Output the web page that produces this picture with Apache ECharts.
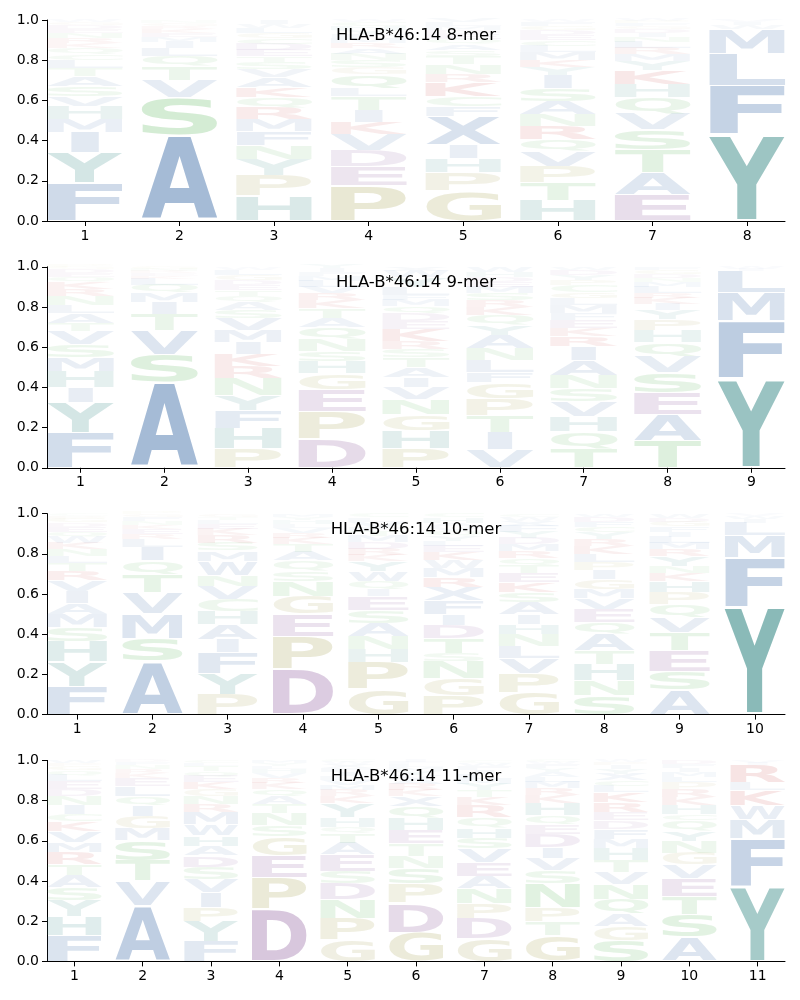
<!DOCTYPE html>
<html><head><meta charset="utf-8">
<script src="https://cdn.jsdelivr.net/npm/echarts@6/dist/echarts.min.js"></script>
<style>html,body{margin:0;padding:0;background:#fff}#c{width:800px;height:1000px}</style>
</head><body><div id="c"></div>
<script>
// ---------- DATA (letters listed bottom -> top, value = frequency) ----------
const titles = ['HLA-B*46:14 8-mer', 'HLA-B*46:14 9-mer', 'HLA-B*46:14 10-mer', 'HLA-B*46:14 11-mer'];
const yTickLabels = ['0.0', '0.2', '0.4', '0.6', '0.8', '1.0'];

const logo8 = [
 [['F',.19],['Y',.15],['I',.10],['M',.065],['H',.065],['V',.05],['S',.05],['A',.05],['T',.04],['L',.04],['C',.03],['Q',.03],['K',.025],['R',.025],['N',.025],['E',.02],['D',.02],['G',.015],['W',.01]],
 [['A',.425],['S',.19],['V',.085],['T',.07],['Q',.05],['L',.04],['I',.03],['M',.025],['E',.02],['K',.02],['R',.015],['G',.015],['N',.01]],
 [['H',.125],['P',.10],['Y',.08],['N',.07],['F',.07],['M',.06],['R',.06],['Q',.05],['K',.05],['A',.05],['V',.04],['S',.035],['T',.03],['E',.03],['D',.03],['C',.03],['G',.025],['L',.025],['W',.02],['I',.02]],
 [['P',.175],['E',.095],['D',.08],['V',.08],['K',.06],['I',.06],['T',.07],['L',.04],['Q',.07],['G',.035],['S',.035],['N',.03],['A',.03],['R',.025],['M',.025],['F',.02],['Y',.02],['H',.02],['C',.02],['W',.01]],
 [['G',.15],['P',.09],['H',.07],['I',.07],['X',.14],['F',.05],['C',.05],['K',.07],['R',.04],['N',.05],['T',.04],['S',.03],['A',.03],['Q',.025],['E',.025],['D',.02],['M',.02],['L',.02],['V',.02]],
 [['H',.10],['T',.09],['P',.08],['V',.075],['Q',.06],['R',.065],['N',.06],['A',.065],['S',.065],['I',.065],['Y',.04],['K',.035],['M',.04],['L',.03],['C',.03],['E',.025],['D',.025],['G',.02],['F',.02],['W',.01]],
 [['E',.13],['A',.11],['T',.115],['S',.10],['V',.08],['Q',.08],['H',.065],['K',.07],['Y',.045],['M',.035],['R',.03],['L',.03],['N',.025],['I',.02],['D',.02],['G',.015],['F',.015],['P',.01],['W',.01]],
 [['Y',.43],['F',.245],['L',.16],['M',.12],['W',.02],['I',.015],['V',.01]]
];

const logo9 = [
 [['F',.175],['Y',.15],['I',.075],['H',.08],['M',.07],['S',.065],['V',.065],['T',.04],['A',.05],['L',.04],['N',.045],['R',.035],['K',.035],['Q',.025],['E',.02],['D',.02],['G',.01],['P',.01]],
 [['A',.425],['S',.14],['V',.12],['T',.08],['I',.06],['M',.045],['Q',.04],['L',.03],['K',.015],['E',.015],['R',.01],['N',.01],['G',.01]],
 [['P',.095],['H',.10],['F',.09],['Y',.075],['N',.085],['R',.06],['K',.06],['I',.06],['M',.06],['V',.06],['S',.04],['A',.04],['Q',.03],['T',.03],['E',.025],['D',.025],['G',.025],['L',.025],['W',.01]],
 [['D',.145],['P',.135],['E',.11],['G',.08],['H',.06],['S',.05],['N',.06],['Q',.06],['A',.045],['T',.05],['K',.04],['R',.035],['V',.03],['L',.03],['M',.025],['F',.02],['I',.02],['Y',.02]],
 [['P',.095],['H',.09],['G',.08],['N',.075],['V',.06],['I',.05],['A',.05],['T',.05],['S',.04],['R',.04],['K',.06],['E',.04],['D',.04],['Q',.035],['M',.03],['F',.025],['L',.04],['Y',.05],['W',.03],['X',.02]],
 [['V',.09],['I',.085],['T',.085],['P',.085],['G',.08],['F',.05],['L',.06],['N',.06],['A',.065],['Y',.05],['Q',.05],['K',.04],['R',.035],['S',.035],['M',.03],['E',.025],['D',.025],['H',.025],['W',.025]],
 [['T',.095],['Q',.085],['H',.075],['V',.075],['S',.065],['N',.065],['A',.075],['I',.07],['R',.05],['K',.04],['E',.04],['F',.035],['M',.04],['L',.035],['G',.03],['C',.035],['P',.025],['Y',.025],['D',.025],['W',.015]],
 [['T',.135],['A',.13],['E',.11],['S',.10],['V',.08],['Q',.07],['H',.06],['P',.055],['Y',.045],['I',.03],['K',.03],['R',.025],['L',.03],['M',.025],['N',.02],['D',.02],['G',.02],['F',.015]],
 [['Y',.445],['F',.285],['M',.14],['L',.11],['I',.01],['W',.01]]
];

const logo10 = [
 [['F',.14],['Y',.125],['H',.10],['S',.07],['M',.065],['A',.055],['I',.06],['V',.055],['R',.045],['T',.04],['L',.035],['N',.035],['K',.03],['W',.03],['Q',.025],['E',.025],['D',.02],['G',.02],['P',.015],['C',.01]],
 [['A',.265],['S',.115],['M',.125],['V',.105],['T',.09],['Q',.065],['I',.07],['L',.04],['R',.025],['E',.025],['K',.02],['N',.02],['F',.02],['G',.015],['P',.01]],
 [['P',.10],['Y',.105],['F',.105],['I',.065],['A',.075],['H',.065],['C',.06],['V',.065],['N',.055],['W',.07],['M',.05],['S',.04],['R',.04],['K',.03],['E',.025],['L',.02],['T',.015],['G',.015]],
 [['D',.225],['P',.165],['E',.11],['G',.09],['N',.075],['S',.05],['Q',.05],['A',.045],['T',.04],['K',.03],['R',.025],['V',.025],['L',.02],['H',.02],['Y',.015],['M',.015]],
 [['G',.125],['P',.135],['H',.065],['N',.065],['A',.065],['S',.065],['E',.07],['I',.035],['Q',.04],['W',.05],['Y',.05],['K',.03],['R',.03],['D',.035],['M',.03],['T',.025],['F',.02],['V',.025],['L',.02],['C',.02]],
 [['P',.095],['G',.085],['N',.085],['S',.04],['T',.075],['D',.065],['I',.055],['F',.07],['X',.065],['R',.05],['M',.045],['W',.04],['K',.04],['E',.03],['L',.025],['Y',.025],['Q',.025],['V',.02],['A',.02],['H',.025],['C',.02]],
 [['G',.11],['P',.095],['V',.075],['L',.06],['N',.06],['H',.05],['I',.05],['A',.06],['S',.05],['K',.05],['E',.045],['T',.04],['Q',.035],['R',.035],['M',.035],['D',.03],['Y',.03],['F',.03],['X',.025],['W',.02],['C',.015]],
 [['S',.095],['N',.075],['H',.08],['T',.07],['A',.08],['Q',.06],['E',.065],['V',.055],['M',.045],['G',.05],['I',.045],['P',.04],['L',.04],['K',.04],['R',.035],['Y',.03],['C',.03],['F',.025],['D',.025],['W',.015]],
 [['A',.125],['S',.09],['E',.105],['T',.09],['V',.075],['Q',.065],['P',.06],['H',.055],['K',.04],['N',.035],['Y',.05],['R',.035],['M',.03],['L',.03],['I',.025],['F',.025],['G',.025],['D',.02],['W',.02]],
 [['Y',.535],['F',.245],['M',.11],['L',.065],['I',.02],['W',.015],['V',.01]]
];

const logo11 = [
 [['F',.13],['H',.095],['Y',.08],['S',.065],['A',.06],['T',.055],['R',.06],['M',.05],['V',.055],['K',.045],['C',.035],['I',.045],['N',.045],['D',.035],['E',.04],['L',.03],['Q',.025],['G',.02],['P',.015],['W',.015]],
 [['A',.275],['V',.125],['T',.10],['S',.10],['M',.06],['G',.06],['I',.055],['Q',.045],['L',.05],['E',.04],['K',.025],['R',.02],['N',.02],['F',.015],['D',.01]],
 [['F',.10],['Y',.10],['P',.07],['I',.075],['V',.065],['S',.06],['D',.055],['A',.05],['H',.05],['W',.055],['M',.06],['R',.04],['N',.04],['G',.035],['K',.035],['E',.03],['Q',.025],['T',.025],['L',.015],['C',.015]],
 [['D',.26],['P',.155],['E',.11],['G',.095],['S',.055],['N',.06],['T',.045],['A',.04],['Q',.035],['K',.03],['R',.025],['V',.025],['H',.02],['L',.015],['Y',.015],['M',.015]],
 [['G',.105],['P',.11],['N',.095],['D',.08],['S',.06],['E',.08],['A',.06],['T',.05],['Q',.03],['H',.045],['Y',.07],['K',.035],['R',.03],['M',.025],['V',.025],['L',.02],['I',.02],['F',.02],['X',.02],['W',.01],['C',.01]],
 [['G',.145],['D',.145],['P',.095],['S',.08],['N',.06],['T',.06],['E',.065],['H',.06],['Q',.06],['X',.05],['K',.03],['R',.03],['A',.025],['V',.02],['Y',.02],['M',.02],['L',.015],['F',.01],['I',.01]],
 [['G',.115],['D',.10],['P',.075],['N',.075],['A',.06],['E',.07],['V',.065],['S',.055],['H',.05],['Q',.05],['R',.06],['K',.04],['T',.035],['Y',.03],['M',.025],['L',.025],['I',.02],['F',.02],['W',.015],['C',.01]],
 [['G',.13],['T',.07],['P',.07],['N',.12],['S',.065],['V',.06],['I',.055],['D',.065],['E',.045],['Q',.045],['H',.06],['K',.04],['R',.035],['M',.03],['L',.025],['A',.025],['Y',.02],['F',.02],['W',.01],['C',.01]],
 [['S',.105],['G',.07],['A',.06],['Q',.075],['N',.075],['V',.06],['T',.06],['H',.06],['M',.045],['F',.05],['D',.04],['E',.04],['R',.05],['K',.05],['L',.03],['C',.03],['X',.03],['Y',.025],['I',.02],['P',.015],['W',.01]],
 [['A',.12],['S',.115],['T',.09],['E',.09],['V',.065],['G',.06],['N',.06],['Y',.05],['Q',.05],['C',.03],['H',.045],['K',.04],['R',.04],['P',.035],['L',.025],['M',.025],['I',.02],['F',.02],['D',.02]],
 [['Y',.375],['F',.235],['M',.095],['W',.07],['K',.075],['L',.04],['R',.085],['I',.01],['V',.01]]
];

// ---------- STYLE ----------
const PANELS = [logo8, logo9, logo10, logo11];
const GROUP_RGB = {
  blue: [80, 122, 176], teal: [65, 143, 140], green: [100, 185, 100],
  olive: [170, 165, 90], purple: [142, 94, 158], red: [200, 70, 70]
};
const LETTER_GROUP = {A:'blue',V:'blue',L:'blue',I:'blue',M:'blue',F:'blue',W:'blue',X:'blue',
  Y:'teal',H:'teal', S:'green',T:'green',N:'green',Q:'green',C:'green',
  P:'olive',G:'olive', D:'purple',E:'purple', K:'red',R:'red'};
const LETTER_FONT = 'bold 100px "DejaVu Sans"';
const HALF_W = 0.4;
const VPAD = 0.025;
const GRID_LEFT = 47, GRID_RIGHT = 15, GRID_TOP0 = 20, GRID_STEP = 246.8, GRID_H = 201;

const mctx = document.createElement('canvas').getContext('2d');
mctx.font = LETTER_FONT;
mctx.textBaseline = 'middle';
mctx.textAlign = 'left';
const mcache = {};
function metrics(ch) {
  if (!mcache[ch]) {
    const m = mctx.measureText(ch);
    mcache[ch] = {L: m.actualBoundingBoxLeft, R: m.actualBoundingBoxRight,
                  A: m.actualBoundingBoxAscent, D: m.actualBoundingBoxDescent};
  }
  return mcache[ch];
}
function letterColor(ch, f) {
  const c = GROUP_RGB[LETTER_GROUP[ch]];
  const a = Math.min(0.9, Math.pow(f, 0.78));
  return 'rgba(' + c[0] + ',' + c[1] + ',' + c[2] + ',' + a.toFixed(3) + ')';
}
function drawLetter(it, api) {
  const tl = api.coord([it.pos - HALF_W, it.hi]);
  const br = api.coord([it.pos + HALF_W, it.lo]);
  const w = br[0] - tl[0];
  const hFull = br[1] - tl[1];
  const pad = hFull * VPAD;
  const h = hFull - 2 * pad;
  if (h < 0.3) return {type: 'group', children: []};
  const m = metrics(it.ch), mE = metrics('E');
  const inkW = m.L + m.R, inkH = m.A + m.D;
  const sx = w / Math.max(inkW, mE.L + mE.R);
  const sy = h / inkH;
  const left = tl[0] + (w - inkW * sx) / 2;
  const top = tl[1] + pad;
  return {
    type: 'text', x: left + m.L * sx, y: top + m.A * sy, scaleX: sx, scaleY: sy, silent: true,
    style: {text: it.ch, font: LETTER_FONT, fill: letterColor(it.ch, it.f),
            align: 'left', verticalAlign: 'middle', textAlign: 'left', textVerticalAlign: 'middle'}
  };
}

const grids = [], xAxes = [], yAxes = [], series = [], graphics = [];
PANELS.forEach((cols, pi) => {
  const top = GRID_TOP0 + GRID_STEP * pi;
  const n = cols.length;
  const ticks = cols.map((_, i) => i + 1);
  grids.push({left: GRID_LEFT, right: GRID_RIGHT, top: top, height: GRID_H});
  const axisLine = {show: true, lineStyle: {color: '#000', width: 1}};
  xAxes.push({
    gridIndex: pi, type: 'value', min: 0.6, max: n + 0.4,
    axisLine: axisLine,
    axisTick: {show: true, length: 5, customValues: ticks, lineStyle: {color: '#000'}},
    axisLabel: {customValues: ticks, formatter: v => String(v), color: '#000', fontSize: 14,
                fontFamily: 'DejaVu Sans', margin: 8},
    splitLine: {show: false}
  });
  yAxes.push({
    gridIndex: pi, type: 'value', min: 0, max: 1, interval: 0.2,
    axisLine: axisLine,
    axisTick: {show: true, length: 5, lineStyle: {color: '#000'}},
    axisLabel: {formatter: v => yTickLabels[Math.round(v * 5)], color: '#000', fontSize: 14,
                fontFamily: 'DejaVu Sans', margin: 8},
    splitLine: {show: false}
  });
  const items = [];
  cols.forEach((stack, ci) => {
    let base = 0;
    stack.forEach(([ch, f]) => {
      items.push({pos: ci + 1, lo: base, hi: base + f, ch: ch, f: f});
      base += f;
    });
  });
  series.push({
    type: 'custom', coordinateSystem: 'cartesian2d', xAxisIndex: pi, yAxisIndex: pi,
    data: items.map(it => [it.pos, it.lo, it.hi]),
    encode: {x: 0, y: [1, 2]},
    silent: true, animation: false, clip: false,
    renderItem: (params, api) => drawLetter(items[params.dataIndex], api)
  });
  graphics.push({
    type: 'text', x: GRID_LEFT + (800 - GRID_LEFT - GRID_RIGHT) / 2, y: top + 16, silent: true, z: 100,
    style: {text: titles[pi], font: '16.5px "DejaVu Sans"', fill: '#000',
            textAlign: 'center', textVerticalAlign: 'middle', align: 'center', verticalAlign: 'middle'}
  });
});

const chart = echarts.init(document.getElementById('c'), null, {renderer: 'canvas'});
chart.setOption({
  animation: false,
  backgroundColor: '#fff',
  grid: grids, xAxis: xAxes, yAxis: yAxes, series: series,
  graphic: {elements: graphics}
});
</script>
</body></html>
